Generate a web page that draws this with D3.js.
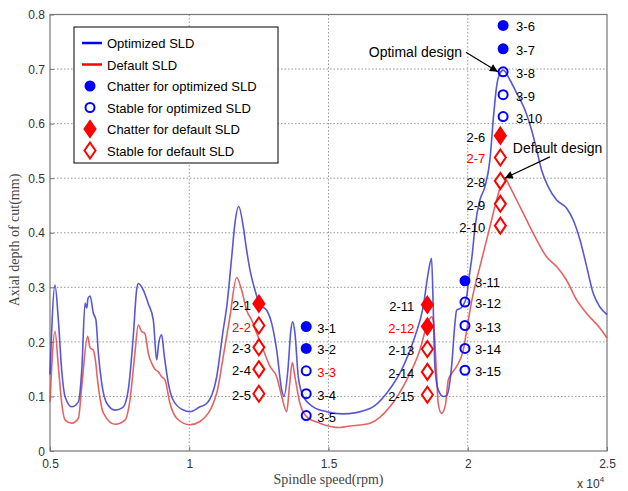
<!DOCTYPE html>
<html>
<head>
<meta charset="utf-8">
<script src="https://cdnjs.cloudflare.com/ajax/libs/d3/7.8.5/d3.min.js"></script>
<style>
  body { margin: 0; background: #fff; }
  svg text { font-family: Arial, "Liberation Sans", sans-serif; }
</style>
</head>
<body>
<div class="canvas"></div>
<script>
// stability lobes: [spindle speed (rpm), axial depth (mm)]
const optimizedSLD = [
  [5000,0.14],[5180,0.304],[5300,0.24],[5420,0.148],[5540,0.10],[5780,0.081],[6020,0.09],
  [6140,0.148],[6260,0.271],[6320,0.262],[6365,0.28],[6440,0.284],[6555,0.253],[6650,0.24],
  [6735,0.18],[6855,0.125],[7035,0.088],[7335,0.075],[7620,0.08],[7810,0.112],[7990,0.21],
  [8110,0.295],[8170,0.307],[8350,0.295],[8530,0.27],[8710,0.24],[8830,0.167],[8910,0.2],
  [9010,0.213],[9090,0.18],[9250,0.124],[9425,0.093],[9785,0.075],[10025,0.072],[10385,0.081],
  [10625,0.087],[10985,0.136],[11220,0.222],[11345,0.264],[11525,0.356],[11640,0.417],
  [11775,0.448],[11940,0.411],[12060,0.368],[12180,0.332],[12360,0.295],[12540,0.268],
  [12780,0.258],[12960,0.234],[13140,0.185],[13320,0.112],[13400,0.10],[13545,0.15],
  [13650,0.222],[13715,0.237],[13795,0.216],[13915,0.136],[14095,0.10],[14450,0.081],
  [14935,0.072],[15500,0.068],[16490,0.078],[17090,0.106],[17685,0.155],[18105,0.21],
  [18400,0.264],[18580,0.326],[18700,0.353],[18760,0.264],[18820,0.155],[18940,0.112],
  [19120,0.10],[19250,0.102],[19420,0.155],[19540,0.234],[19600,0.258],[19755,0.262],
  [19960,0.283],[20025,0.31],[20160,0.36],[20260,0.41],[20435,0.46],[20615,0.484],
  [20795,0.533],[20915,0.607],[21035,0.668],[21155,0.692],[21275,0.698],[21515,0.68],
  [21755,0.656],[22055,0.625],[22295,0.588],[22475,0.552],[22650,0.515],[22890,0.484],
  [23190,0.46],[23550,0.445],[23790,0.423],[24030,0.387],[24270,0.338],[24505,0.289],
  [24745,0.264],[25000,0.25]
];

const defaultSLD = [
  [5000,0.09],[5180,0.219],[5300,0.155],[5420,0.088],[5540,0.057],[5780,0.051],[6020,0.06],
  [6140,0.118],[6350,0.21],[6440,0.189],[6555,0.185],[6620,0.17],[6735,0.118],[6915,0.07],
  [7335,0.049],[7700,0.057],[7870,0.093],[8050,0.18],[8170,0.231],[8290,0.219],[8410,0.215],
  [8530,0.179],[8650,0.161],[8770,0.15],[8890,0.145],[9010,0.136],[9130,0.13],[9310,0.087],
  [9550,0.06],[10025,0.048],[10385,0.054],[10985,0.106],[11220,0.173],[11460,0.246],
  [11700,0.318],[11880,0.295],[12060,0.258],[12240,0.24],[12420,0.216],[12660,0.185],
  [12900,0.155],[13140,0.136],[13320,0.10],[13500,0.072],[13600,0.12],[13700,0.162],
  [13795,0.136],[13975,0.087],[14215,0.063],[14690,0.051],[15410,0.043],[15650,0.045],
  [16490,0.051],[17205,0.081],[17805,0.13],[18280,0.185],[18520,0.228],[18700,0.246],
  [18760,0.24],[18880,0.142],[18940,0.087],[19060,0.069],[19200,0.085],[19300,0.13],
  [19420,0.142],[19600,0.155],[19840,0.185],[20005,0.235],[20150,0.277],[20437,0.338],
  [20796,0.411],[21036,0.46],[21215,0.49],[21335,0.5],[21515,0.484],[21755,0.46],
  [22115,0.423],[22475,0.387],[22830,0.356],[23190,0.338],[23550,0.313],[23910,0.277],
  [24270,0.252],[24750,0.225],[25000,0.207]
];

// cutting tests: [label, rpm, depth, chatter?]
const defaultTests = [
  ['2-1',12500,0.27,true],['2-2',12500,0.23,false],['2-3',12500,0.19,false],
  ['2-4',12500,0.15,false],['2-5',12500,0.105,false],
  ['2-6',21170,0.578,true],['2-7',21170,0.538,false],['2-8',21170,0.495,false],
  ['2-9',21170,0.453,false],['2-10',21170,0.413,false],
  ['2-11',18550,0.268,true],['2-12',18550,0.228,true],['2-13',18550,0.187,false],
  ['2-14',18550,0.145,false],['2-15',18550,0.103,false]
];
const optimizedTests = [
  ['3-1',14200,0.228,true],['3-2',14200,0.188,true],['3-3',14200,0.147,false],
  ['3-4',14200,0.105,false],['3-5',14200,0.065,false],
  ['3-6',21270,0.78,true],['3-7',21270,0.737,true],['3-8',21270,0.695,false],
  ['3-9',21270,0.653,false],['3-10',21270,0.613,false],
  ['3-11',19900,0.312,true],['3-12',19900,0.273,false],['3-13',19900,0.23,false],
  ['3-14',19900,0.188,false],['3-15',19900,0.148,false]
];
const redLabels = ['2-2','2-7','2-12','3-3'];

const xTicks = [5000,10000,15000,20000,25000];
const xTickLabels = ['0.5','1','1.5','2','2.5'];
const yTicks = [0,0.1,0.2,0.3,0.4,0.5,0.6,0.7,0.8];
const yTickLabels = ['0','0.1','0.2','0.3','0.4','0.5','0.6','0.7','0.8'];

const legendItems = ['Optimized SLD','Default SLD','Chatter for optimized SLD',
  'Stable for optimized SLD','Chatter for default SLD','Stable for default SLD'];

// dimensions
const svgDimensions = { width: 628, height: 491 };
const plot = { left: 50, right: 607, top: 14.5, bottom: 451 };

const svg = d3.select('.canvas')
  .append('svg')
    .attr('width', svgDimensions.width)
    .attr('height', svgDimensions.height);

const x = d3.scaleLinear().domain([5000,25000]).range([plot.left, plot.right]);
const y = d3.scaleLinear().domain([0,0.8]).range([plot.bottom, plot.top]);

// grid lines
const grid = svg.append('g');
grid.selectAll('.vg')
  .data(xTicks.slice(1,-1))
  .enter().append('line')
    .attr('x1', d => x(d)).attr('x2', d => x(d))
    .attr('y1', plot.top).attr('y2', plot.bottom)
    .attr('stroke', '#999').attr('stroke-dasharray', '1.5,2');
grid.selectAll('.hg')
  .data(yTicks.slice(1,-1))
  .enter().append('line')
    .attr('y1', d => y(d)).attr('y2', d => y(d))
    .attr('x1', plot.left).attr('x2', plot.right)
    .attr('stroke', '#999').attr('stroke-dasharray', '1.5,2');

// axes
const xAxis = d3.axisBottom(x).tickValues(xTicks)
  .tickFormat((d,i) => xTickLabels[i]).tickSize(-4).tickPadding(8);
const yAxis = d3.axisLeft(y).tickValues(yTicks)
  .tickFormat((d,i) => yTickLabels[i]).tickSize(-4).tickPadding(5);

const gx = svg.append('g').attr('transform', `translate(0,${plot.bottom})`).call(xAxis);
const gy = svg.append('g').attr('transform', `translate(${plot.left},0)`).call(yAxis);
[gx, gy].forEach(g => {
  g.select('.domain').remove();
  g.selectAll('line').attr('stroke', '#777');
  g.selectAll('text').attr('fill', '#333').attr('font-size', 12)
    .attr('font-family', 'Arial, "Liberation Sans", sans-serif');
});
gy.selectAll('text').attr('dy', '0.35em');

svg.append('rect')
  .attr('x', plot.left).attr('y', plot.top)
  .attr('width', plot.right - plot.left).attr('height', plot.bottom - plot.top)
  .attr('fill', 'none').attr('stroke', '#777').attr('stroke-width', 1.2);

// axis titles
svg.append('text')
  .attr('x', (plot.left + plot.right)/2).attr('y', 484)
  .attr('text-anchor', 'middle')
  .style('font-family', '"Liberation Serif", "Times New Roman", serif')
  .attr('font-size', 14).attr('fill', '#444')
  .text('Spindle speed(rpm)');
svg.append('text')
  .attr('transform', 'translate(19,240) rotate(-90)')
  .attr('text-anchor', 'middle')
  .style('font-family', '"Liberation Serif", "Times New Roman", serif')
  .attr('font-size', 14).attr('fill', '#444')
  .text('Axial depth of cut(mm)');
const mult = svg.append('text').attr('x', 577).attr('y', 488)
  .attr('font-size', 12).attr('fill', '#333');
mult.append('tspan').text('x 10');
mult.append('tspan').attr('font-size', 8).attr('dy', -6).text('4');

// curves
const lineGenerator = d3.line()
  .x(d => x(d[0]))
  .y(d => y(d[1]))
  .curve(d3.curveMonotoneX);

svg.append('path').datum(defaultSLD)
  .attr('d', lineGenerator)
  .attr('fill', 'none').attr('stroke', '#e04848').attr('stroke-opacity', 0.85)
  .attr('stroke-width', 1.6);
svg.append('path').datum(optimizedSLD)
  .attr('d', lineGenerator)
  .attr('fill', 'none').attr('stroke', '#3a3ad0').attr('stroke-opacity', 0.85)
  .attr('stroke-width', 1.6);

// markers
const diamond = (cx, cy) => `M${cx},${cy-8}L${cx+5.5},${cy}L${cx},${cy+8}L${cx-5.5},${cy}Z`;
const diamondGap = { 12500: 8, 18550: 13, 21170: 15 };
const circleGap = { 14200: 11, 19900: 10, 21270: 13 };

svg.selectAll('.dm')
  .data(defaultTests)
  .enter().append('path')
    .attr('d', d => diamond(x(d[1]), y(d[2])))
    .attr('fill', d => d[3] ? '#ff0000' : '#fff')
    .attr('stroke', '#ff0000').attr('stroke-width', 2);

svg.selectAll('.dl')
  .data(defaultTests)
  .enter().append('text')
    .attr('x', d => x(d[1]) - diamondGap[d[1]])
    .attr('y', d => y(d[2]) + 6)
    .attr('text-anchor', 'end')
    .attr('font-size', 13)
    .attr('fill', d => redLabels.includes(d[0]) ? '#ff0000' : '#000')
    .text(d => d[0]);

svg.selectAll('.cm')
  .data(optimizedTests)
  .enter().append('circle')
    .attr('cx', d => x(d[1])).attr('cy', d => y(d[2]))
    .attr('r', d => d[3] ? 5.5 : 4.5)
    .attr('fill', d => d[3] ? '#0000ff' : 'none')
    .attr('stroke', '#0000ff').attr('stroke-width', d => d[3] ? 0 : 2);

svg.selectAll('.cl')
  .data(optimizedTests)
  .enter().append('text')
    .attr('x', d => x(d[1]) + circleGap[d[1]])
    .attr('y', d => y(d[2]) + 6)
    .attr('font-size', 13)
    .attr('fill', d => redLabels.includes(d[0]) ? '#ff0000' : '#000')
    .text(d => d[0]);

// annotations
svg.append('defs').append('marker')
  .attr('id', 'arrow').attr('viewBox', '0 0 10 10')
  .attr('refX', 10).attr('refY', 5)
  .attr('markerWidth', 10).attr('markerHeight', 8)
  .attr('markerUnits', 'userSpaceOnUse')
  .attr('orient', 'auto')
  .append('path').attr('d', 'M0,0L10,5L0,10Z').attr('fill', '#000');

const annotations = [
  { text: 'Optimal design', tx: 19800, ty: 0.731, anchor: 'end', from: [19935,0.731], to: [21080,0.695] },
  { text: 'Default design', tx: 21620, ty: 0.555, anchor: 'start', from: [22950,0.539], to: [21330,0.5] }
];
annotations.forEach(a => {
  svg.append('line')
    .attr('x1', x(a.from[0])).attr('y1', y(a.from[1]))
    .attr('x2', x(a.to[0])).attr('y2', y(a.to[1]))
    .attr('stroke', '#000').attr('stroke-width', 1.2)
    .attr('marker-end', 'url(#arrow)');
  svg.append('text')
    .attr('x', x(a.tx)).attr('y', y(a.ty) + 5)
    .attr('text-anchor', a.anchor)
    .attr('font-size', 14).attr('fill', '#000')
    .text(a.text);
});

// legend
const legendGroup = svg.append('g').attr('transform', 'translate(74,27)');
legendGroup.append('rect')
  .attr('width', 204).attr('height', 136)
  .attr('fill', '#fff').attr('stroke', '#000').attr('stroke-width', 1);

const rowY = i => 16 + i * 21.5;
legendItems.forEach((label, i) => {
  const row = legendGroup.append('g').attr('transform', `translate(0,${rowY(i)})`);
  if (i < 2) {
    row.append('line').attr('x1', 8).attr('x2', 28)
      .attr('stroke', i === 0 ? '#0000ff' : '#ff0000').attr('stroke-width', 2.5);
  } else if (i < 4) {
    row.append('circle').attr('cx', 16).attr('r', i === 2 ? 5.5 : 4.5)
      .attr('fill', i === 2 ? '#0000ff' : 'none')
      .attr('stroke', '#0000ff').attr('stroke-width', i === 2 ? 0 : 2);
  } else {
    row.append('path').attr('d', diamond(16, 0))
      .attr('fill', i === 4 ? '#ff0000' : '#fff')
      .attr('stroke', '#ff0000').attr('stroke-width', 2);
  }
  row.append('text').attr('x', 33).attr('y', 5)
    .attr('font-size', 13).attr('fill', '#000').text(label);
});
</script>
</body>
</html>
